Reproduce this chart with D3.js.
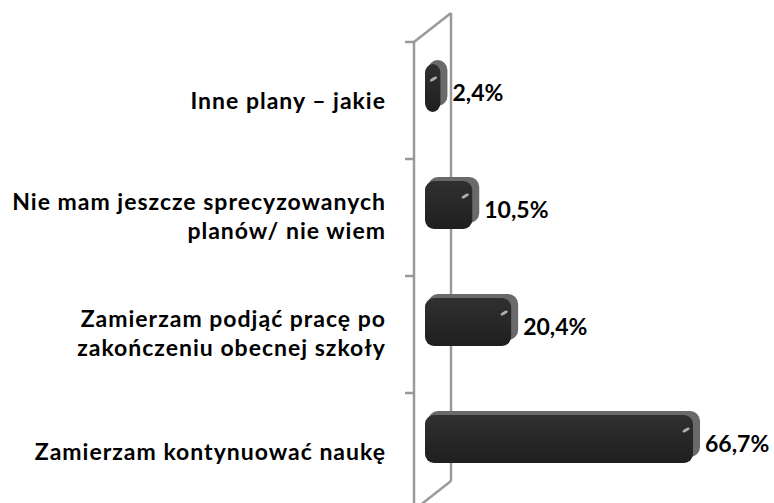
<!DOCTYPE html>
<html>
<head>
<meta charset="utf-8">
<script src="https://cdn.jsdelivr.net/npm/d3@7"></script>
<style>
	body { margin: 0; background: #fff; }
	text { font-family: Lato, "Open Sans", sans-serif; font-weight: bold; fill: #000; }
</style>
</head>
<body>
<div id="chart"></div>
<script>
// categories top to bottom, as drawn
var categories = ['inne', 'niewiem', 'praca', 'nauka'];
var labelLines = [
	['Inne plany – jakie'],
	['Nie mam jeszcze sprecyzowanych', 'planów/ nie wiem'],
	['Zamierzam podjąć pracę po', 'zakończeniu obecnej szkoły'],
	['Zamierzam kontynuować naukę']
];
var values = [2.4, 10.5, 20.4, 66.7];

var width = 774;
var height = 503;

var frontX = 414;
var depthX = 37;
var depthY = -29;
var barHeight = 48;

var pl = d3.formatLocale({ decimal: ',', thousands: ' ', grouping: [3], currency: ['', ''] });
var fmt = pl.format('.1f');

var svg = d3.select('#chart')
	.append('svg')
	.attr('width', width)
	.attr('height', height);

var yScale = d3.scaleBand()
	.domain(categories)
	.range([42, 510]);

var xScale = d3.scaleLinear()
	.domain([0, 70])
	.range([438, 713]);

// 3d wall
var wall = svg.append('g')
	.attr('stroke', '#9a9a9a')
	.attr('stroke-width', 2.5)
	.attr('fill', 'none');

var wallTop = yScale.range()[0];
var wallBottom = yScale.range()[1];

wall.append('line')
	.attr('x1', frontX).attr('y1', wallTop)
	.attr('x2', frontX).attr('y2', wallBottom);
wall.append('line')
	.attr('x1', frontX + depthX).attr('y1', wallTop + depthY)
	.attr('x2', frontX + depthX).attr('y2', wallBottom + depthY);
wall.append('line')
	.attr('x1', frontX).attr('y1', wallTop)
	.attr('x2', frontX + depthX).attr('y2', wallTop + depthY);
wall.append('line')
	.attr('x1', frontX).attr('y1', wallBottom)
	.attr('x2', frontX + depthX).attr('y2', wallBottom + depthY);

var ticks = categories.map(function(c) { return yScale(c); }).concat([wallBottom]);
wall.selectAll('.tick')
	.data(ticks)
	.enter()
	.append('line')
	.attr('x1', frontX - 9).attr('x2', frontX)
	.attr('y1', function(d) { return d; })
	.attr('y2', function(d) { return d; });

// bars
var defs = svg.append('defs');
var grad = defs.append('linearGradient')
	.attr('id', 'front')
	.attr('x1', 0).attr('y1', 0).attr('x2', 0).attr('y2', 1);
grad.append('stop').attr('offset', '0%').attr('stop-color', '#303030');
grad.append('stop').attr('offset', '100%').attr('stop-color', '#1f1f1f');

var bars = svg.selectAll('.bar')
	.data(categories)
	.enter()
	.append('g')
	.attr('class', 'bar');

function barTop(c) {
	return yScale(c) + yScale.bandwidth() / 2 + depthY / 2 - barHeight / 2 + 2;
}

bars.append('rect')
	.attr('x', xScale(0) - 10)
	.attr('y', function(c) { return barTop(c) - 4; })
	.attr('width', function(c, i) { return xScale(values[i]) - xScale(0) + 10; })
	.attr('height', barHeight - 2)
	.attr('rx', 10)
	.attr('fill', '#6a6a6a');

bars.append('rect')
	.attr('x', xScale(0) - 13)
	.attr('y', function(c) { return barTop(c); })
	.attr('width', function(c, i) { return xScale(values[i]) - xScale(0) + 6; })
	.attr('height', barHeight)
	.attr('rx', 9)
	.attr('fill', 'url(#front)');

bars.append('ellipse')
	.attr('cx', function(c, i) { return xScale(values[i]) - 14; })
	.attr('cy', function(c) { return barTop(c) + 15; })
	.attr('rx', 4)
	.attr('ry', 1.5)
	.attr('fill', '#b0b0b0')
	.attr('transform', function(c, i) {
		return 'rotate(-30,' + (xScale(values[i]) - 14) + ',' + (barTop(c) + 15) + ')';
	});

// value labels
svg.selectAll('.value')
	.data(categories)
	.enter()
	.append('text')
	.attr('class', 'value')
	.attr('x', function(c, i) { return xScale(values[i]) + 5; })
	.attr('y', function(c) { return yScale(c) + yScale.bandwidth() / 2; })
	.style('font-size', '23px')
	.text(function(c, i) { return fmt(values[i]) + '%'; });

// category labels
var labels = svg.selectAll('.label')
	.data(categories)
	.enter()
	.append('text')
	.attr('class', 'label')
	.attr('text-anchor', 'end')
	.style('font-size', '23px')
	.style('letter-spacing', '1px');

labels.each(function(c, i) {
	var lines = labelLines[i];
	var mid = yScale(c) + yScale.bandwidth() / 2;
	var start = lines.length > 1 ? mid - 8 : mid + 8;
	d3.select(this).selectAll('tspan')
		.data(lines)
		.enter()
		.append('tspan')
		.attr('x', 386)
		.attr('y', function(d, j) { return start + j * 29; })
		.text(function(d) { return d; });
});
</script>
</body>
</html>
